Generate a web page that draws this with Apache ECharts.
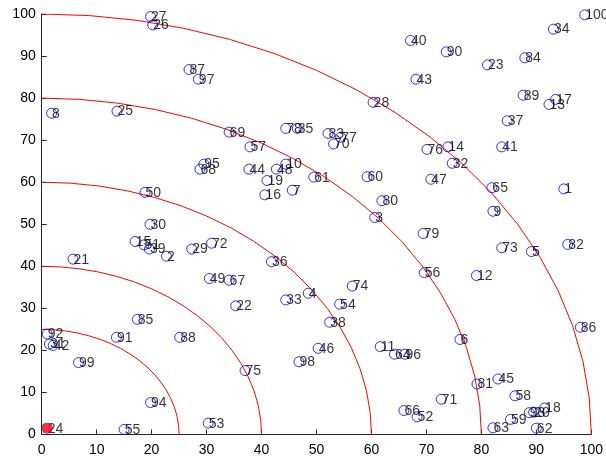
<!DOCTYPE html>
<html>
<head>
<meta charset="utf-8">
<script src="https://cdn.jsdelivr.net/npm/echarts@6/dist/echarts.min.js"></script>
<style>
  html, body { margin: 0; padding: 0; background: #fff; }
  #chart { width: 606px; height: 461px; }
</style>
</head>
<body>
<div id="chart"></div>
<script>
// Customer nodes 1..100: x and y coordinates (index i holds node i+1)
var nodeX = [
  95.0, 22.7, 60.6, 48.5, 89.1, 76.1, 45.6,  1.8, 82.1, 44.4,
  61.6, 79.1, 92.3, 73.9, 17.0, 40.6, 93.5, 91.5, 41.0, 89.5,
   5.7, 35.3, 81.1,  1.0, 13.7, 20.2, 19.8, 60.3, 27.3, 19.7,
   1.4, 74.7, 44.4, 93.1, 46.5, 41.8, 84.7, 52.4, 19.6, 67.1,
  83.7,  2.1, 68.1, 37.7, 83.0, 50.3, 70.8, 42.7, 30.5, 18.8,
  18.6, 68.3, 30.3, 54.2, 15.0, 69.6, 37.9, 86.1, 85.3, 59.2,
  49.5, 90.0, 82.1, 64.2, 81.9, 65.9, 34.1, 28.8, 34.1, 53.1,
  72.7, 30.9, 83.7, 56.5, 37.0, 70.1, 54.4, 44.4, 69.4, 61.9,
  79.2, 95.7, 52.1, 87.9, 17.4, 98.0, 26.8, 25.1, 87.6, 73.6,
  13.6,  1.0, 88.7, 19.8, 29.5, 66.1, 28.5, 46.8,  6.7, 98.8
];
var nodeY = [
  58.4, 42.4, 51.6, 33.6, 43.5, 22.6, 58.1, 76.4, 53.1, 64.3,
  20.9, 37.8, 78.5, 68.4, 45.9, 57.0, 79.7,  6.3, 60.4,  5.3,
  41.7, 30.6, 87.9,  1.5, 76.9, 97.4, 99.4, 79.0, 44.1, 50.0,
  21.5, 64.5, 32.0, 96.4, 72.8, 41.1, 74.6, 26.7, 44.1, 93.7,
  68.4, 21.2, 84.5, 63.1, 13.2, 20.5, 60.7, 63.1, 37.1, 57.6,
  45.1,  4.2,  2.7, 31.0,  1.2, 38.5, 68.4,  9.2,  3.6, 61.3,
  61.2,  1.5,  1.6, 19.1, 58.7,  5.7, 36.7, 63.1, 71.9, 69.1,
   8.4, 45.5, 44.4, 35.3, 15.2, 67.8, 70.7, 72.8, 47.8, 55.6,
  12.0, 45.2, 71.6, 89.6, 27.4, 25.5, 86.8, 23.1, 80.7, 91.0,
  23.1, 23.9,  5.2,  7.6, 64.3, 19.1, 84.5, 17.3, 17.1, 99.8
];
// Depot marker (node 24)
var depotId = 24;
// Radii of the concentric rings around the origin
var ringRadii = [25, 40, 60, 80, 100];
var axisTicks = [0, 10, 20, 30, 40, 50, 60, 70, 80, 90, 100];

var FONT = '"Liberation Sans", Arial, sans-serif';
var SYM = 10;

var nodeData = nodeX.map(function (x, i) {
  return { value: [x, nodeY[i]], name: String(i + 1) };
});

// Rings drawn as polylines (5 degree steps)
var ringSeries = ringRadii.map(function (r) {
  var pts = [];
  for (var a = 0; a <= 90; a += 5) {
    var t = a * Math.PI / 180;
    pts.push([r * Math.sin(t), r * Math.cos(t)]);
  }
  return {
    type: 'line', data: pts, showSymbol: false, silent: true,
    lineStyle: { color: '#ff0000', width: 1 }, z: 1, animation: false
  };
});

var axisCommon = {
  min: axisTicks[0], max: axisTicks[axisTicks.length - 1], interval: 10,
  axisLine: { show: true, onZero: false, lineStyle: { color: '#262626', width: 1 } },
  axisTick: { show: true, inside: true, length: 5, lineStyle: { color: '#262626' } },
  splitLine: { show: false },
  axisLabel: { color: '#000', fontSize: 14, fontFamily: FONT }
};

var option = {
  backgroundColor: '#fff',
  animation: false,
  grid: { left: 41.7, right: 13.5, top: 14, bottom: 26.5, containLabel: false },
  xAxis: Object.assign({ type: 'value' }, axisCommon, {
    axisLabel: Object.assign({}, axisCommon.axisLabel, { margin: 9 })
  }),
  yAxis: Object.assign({ type: 'value' }, axisCommon, {
    axisLabel: Object.assign({}, axisCommon.axisLabel, { margin: 6 })
  }),
  series: ringSeries.concat([
    {
      type: 'scatter',
      data: nodeData,
      symbol: 'circle',
      symbolSize: SYM,
      itemStyle: { color: 'rgba(0,0,0,0)', borderColor: '#0000ff', borderWidth: 1 },
      label: {
        show: true,
        formatter: '{b}',
        position: [SYM / 2 + 1, SYM / 2 + 1],
        align: 'left',
        verticalAlign: 'middle',
        color: '#000',
        fontSize: 14,
        fontFamily: FONT
      },
      labelLayout: { hideOverlap: false },
      z: 3
    },
    {
      type: 'scatter',
      data: [[nodeX[depotId - 1], nodeY[depotId - 1]]],
      symbol: 'rect',
      symbolSize: 9,
      itemStyle: { color: '#ff0000' },
      z: 4
    }
  ])
};

var chart = echarts.init(document.getElementById('chart'), null, { renderer: 'canvas' });
chart.setOption(option);
</script>
</body>
</html>
